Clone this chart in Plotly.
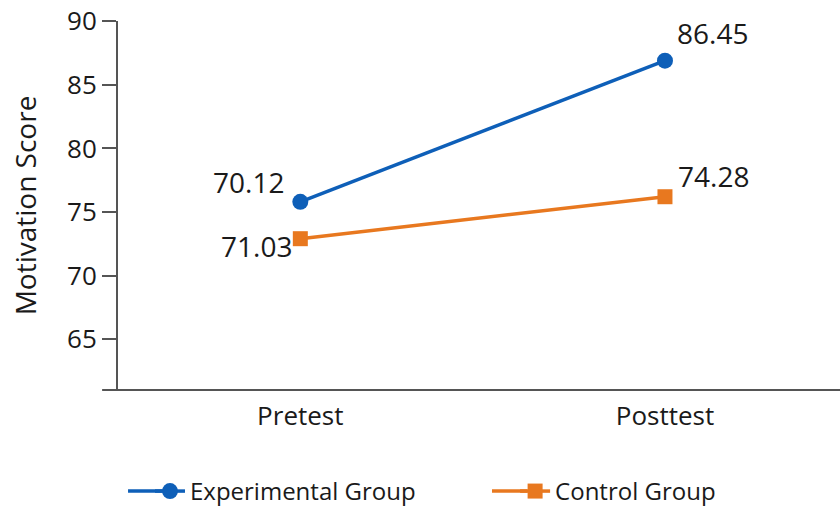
import plotly.graph_objects as go

categories = ["Pretest", "Posttest"]
experimental_values = [75.8, 86.9]
control_values = [72.9, 76.2]
experimental_labels = ["70.12", "86.45"]
control_labels = ["71.03", "74.28"]
y_ticks = [65, 70, 75, 80, 85, 90]

BLUE = "#0e5fb8"
ORANGE = "#e8781f"
AXIS = "#555555"
FONT = "Open Sans, Noto Sans, sans-serif"

fig = go.Figure()
fig.add_trace(go.Scatter(
    x=categories, y=experimental_values, name="Experimental Group",
    mode="lines+markers", legend="legend",
    line=dict(color=BLUE, width=3.5),
    marker=dict(symbol="circle", size=16, color=BLUE),
    cliponaxis=False,
))
fig.add_trace(go.Scatter(
    x=categories, y=control_values, name="Control Group",
    mode="lines+markers", legend="legend2",
    line=dict(color=ORANGE, width=3.5),
    marker=dict(symbol="square", size=15, color=ORANGE),
    cliponaxis=False,
))

# value labels placed next to their points (pixel offsets only)
label_offsets_exp = [(-52, 20), (48, 28)]
label_offsets_ctl = [(-44, -7), (49, 21)]
annotations = []
for cat, val, lab, (dx, dy) in zip(categories, experimental_values, experimental_labels, label_offsets_exp):
    annotations.append(dict(x=cat, y=val, text=lab, showarrow=False,
                            xshift=dx, yshift=dy, font=dict(size=28, color="#1a1a1a")))
for cat, val, lab, (dx, dy) in zip(categories, control_values, control_labels, label_offsets_ctl):
    annotations.append(dict(x=cat, y=val, text=lab, showarrow=False,
                            xshift=dx, yshift=dy, font=dict(size=28, color="#1a1a1a")))

legend_style = dict(orientation="h", xanchor="left", y=-0.214, yanchor="top",
                    font=dict(size=24, color="#1a1a1a"), bgcolor="rgba(0,0,0,0)")

LEG_Y = -0.2737
fig.update_layout(
    width=840, height=506,
    margin=dict(l=118, r=0, t=21, b=116, autoexpand=False),
    paper_bgcolor="white", plot_bgcolor="white",
    font=dict(family=FONT, size=26, color="#1a1a1a"),
    showlegend=True,
    legend=dict(x=0.0443, **legend_style),
    legend2=dict(x=0.55, **legend_style),
    annotations=annotations,
    xaxis=dict(
        type="category", range=[-0.5, 1.48],
        showline=False, showgrid=False, zeroline=False,
        ticks="", tickfont=dict(size=26), automargin=False,
        ticklabelstandoff=8,
    ),
    yaxis=dict(
        range=[61, 90.02], tickvals=y_ticks,
        showline=True, linecolor=AXIS, linewidth=2,
        ticks="outside", ticklen=14, tickwidth=1.5, tickcolor=AXIS,
        showgrid=False, zeroline=False, automargin=False,
        tickfont=dict(size=26),
        title=dict(text="Motivation Score", font=dict(size=28), standoff=22),
    ),
    shapes=[
        dict(type="line", xref="paper", yref="paper",
             x0=-0.022, x1=1.0, y0=0, y1=0, line=dict(color=AXIS, width=2)),
        # longer legend key lines
        dict(type="line", xref="paper", yref="paper",
             x0=0.0139, x1=0.062, y0=LEG_Y, y1=LEG_Y, line=dict(color=BLUE, width=3.5)),
        dict(type="line", xref="paper", yref="paper",
             x0=0.518, x1=0.567, y0=LEG_Y, y1=LEG_Y, line=dict(color=ORANGE, width=3.5)),
    ],
)

fig.write_html("out.html", config={"displayModeBar": False},
               post_script="document.body.style.margin='0';")
